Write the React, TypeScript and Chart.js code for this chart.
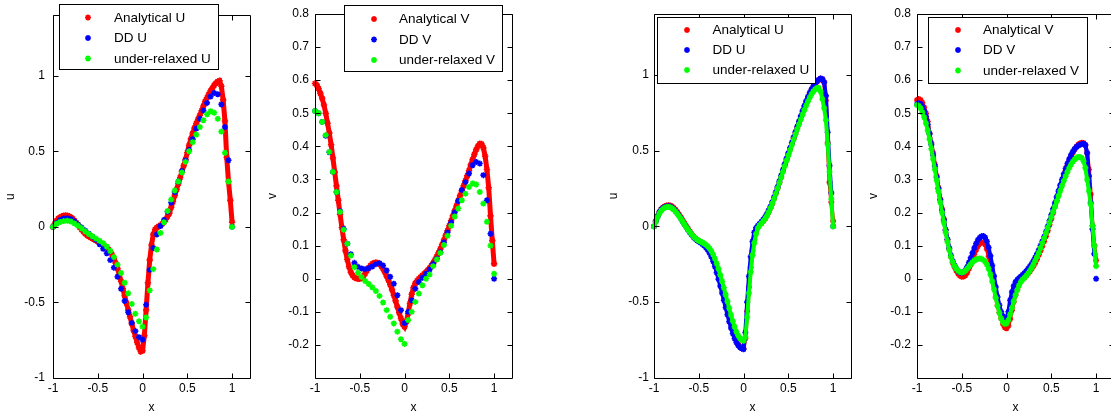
import React, { useEffect, useRef } from "react";
import { Chart, registerables } from "chart.js";

Chart.register(...registerables);

// ---------- data ----------
const X_DENSE = [
  -1, -0.98, -0.96, -0.94, -0.92, -0.9, -0.88, -0.86, -0.84, -0.82,
  -0.8, -0.78, -0.76, -0.74, -0.72, -0.7, -0.68, -0.66, -0.64, -0.62,
  -0.6, -0.58, -0.56, -0.54, -0.52, -0.5, -0.48, -0.46, -0.44, -0.42,
  -0.4, -0.38, -0.36, -0.34, -0.32, -0.3, -0.28, -0.26, -0.24, -0.22,
  -0.2, -0.18, -0.16, -0.14, -0.12, -0.1, -0.08, -0.06, -0.04, -0.02,
  0, 0.02, 0.04, 0.06, 0.08, 0.1, 0.12, 0.14, 0.16, 0.18,
  0.2, 0.22, 0.24, 0.26, 0.28, 0.3, 0.32, 0.34, 0.36, 0.38,
  0.4, 0.42, 0.44, 0.46, 0.48, 0.5, 0.52, 0.54, 0.56, 0.58,
  0.6, 0.62, 0.64, 0.66, 0.68, 0.7, 0.72, 0.74, 0.76, 0.78,
  0.8, 0.82, 0.84, 0.86, 0.88, 0.9, 0.92, 0.94, 0.96, 0.98,
  1,
];

const X_COARSE = [
  -1, -0.96, -0.92, -0.88, -0.84, -0.8, -0.76, -0.72, -0.68, -0.64,
  -0.6, -0.56, -0.52, -0.48, -0.44, -0.4, -0.36, -0.32, -0.28, -0.24,
  -0.2, -0.16, -0.12, -0.08, -0.04, 0, 0.04, 0.08, 0.12, 0.16,
  0.2, 0.24, 0.28, 0.32, 0.36, 0.4, 0.44, 0.48, 0.52, 0.56,
  0.6, 0.64, 0.68, 0.72, 0.76, 0.8, 0.84, 0.88, 0.92, 0.96,
  1,
];

const X_TICKS = [-1, -0.5, 0, 0.5, 1];
const U_TICKS = [-1, -0.5, 0, 0.5, 1];
const V_TICKS = [-0.2, -0.1, 0, 0.1, 0.2, 0.3, 0.4, 0.5, 0.6, 0.7, 0.8];

const U_LABELS = ["Analytical U", "DD U", "under-relaxed U"];
const V_LABELS = ["Analytical V", "DD V", "under-relaxed V"];

// Panel 1 (U)
const P1_ANALYTICAL_U = [
  0, 0.02, 0.04, 0.055, 0.063, 0.07, 0.074, 0.075, 0.074, 0.07,
  0.063, 0.053, 0.04, 0.027, 0.012, -0.004, -0.018, -0.032, -0.045, -0.055,
  -0.063, -0.07, -0.077, -0.084, -0.09, -0.097, -0.105, -0.113, -0.12, -0.128,
  -0.138, -0.15, -0.165, -0.185, -0.21, -0.24, -0.275, -0.315, -0.36, -0.41,
  -0.455, -0.505, -0.55, -0.595, -0.64, -0.685, -0.725, -0.765, -0.8, -0.825,
  -0.82, -0.72, -0.55, -0.37, -0.22, -0.12, -0.05, -0.018, -0.005, 0.003,
  0.01, 0.02, 0.033, 0.05, 0.07, 0.09, 0.13, 0.168, 0.208, 0.247,
  0.287, 0.326, 0.365, 0.405, 0.445, 0.492, 0.54, 0.582, 0.618, 0.654,
  0.684, 0.712, 0.738, 0.768, 0.799, 0.83, 0.854, 0.877, 0.9, 0.918,
  0.937, 0.951, 0.961, 0.966, 0.93, 0.84, 0.7, 0.46, 0.3, 0.175,
  0.03,
];
const P1_DD_U = [
  0, 0.025, 0.045, 0.055, 0.057, 0.05, 0.035, 0.015, -0.005, -0.025,
  -0.045, -0.065, -0.085, -0.115, -0.145, -0.175, -0.22, -0.27, -0.33, -0.41,
  -0.49, -0.565, -0.635, -0.69, -0.73, -0.745, -0.515, -0.285, -0.14, -0.05,
  0.005, 0.045, 0.1, 0.16, 0.23, 0.3, 0.37, 0.44, 0.51, 0.58,
  0.65, 0.715, 0.77, 0.82, 0.862, 0.885, 0.877, 0.81, 0.66, 0.44,
  0,
];
const P1_RELAXED_U = [
  0, 0.02, 0.032, 0.038, 0.04, 0.035, 0.022, 0.008, -0.01, -0.03,
  -0.048, -0.063, -0.078, -0.092, -0.108, -0.13, -0.16, -0.2, -0.25, -0.305,
  -0.37, -0.44, -0.51, -0.575, -0.625, -0.66, -0.6, -0.42, -0.28, -0.15,
  -0.04, 0.03, 0.105, 0.18, 0.24, 0.3, 0.36, 0.43, 0.5, 0.56,
  0.61, 0.66, 0.705, 0.745, 0.765, 0.755, 0.715, 0.63, 0.49, 0.3,
  0,
];

// Panel 2 (V)
const P2_ANALYTICAL_V = [
  0.59, 0.585, 0.575, 0.56, 0.545, 0.525, 0.5, 0.47, 0.44, 0.405,
  0.365, 0.322, 0.28, 0.237, 0.195, 0.155, 0.118, 0.085, 0.058, 0.036,
  0.02, 0.01, 0.004, 0.001, 0, 0, 0.002, 0.008, 0.016, 0.025,
  0.033, 0.04, 0.045, 0.048, 0.049, 0.048, 0.045, 0.038, 0.03, 0.02,
  0.008, -0.004, -0.018, -0.033, -0.05, -0.067, -0.085, -0.103, -0.12, -0.137,
  -0.145, -0.13, -0.105, -0.075, -0.047, -0.027, -0.014, -0.006, 0, 0.005,
  0.01, 0.015, 0.02, 0.026, 0.032, 0.04, 0.048, 0.057, 0.067, 0.078,
  0.09, 0.103, 0.117, 0.131, 0.145, 0.16, 0.175, 0.19, 0.205, 0.22,
  0.236, 0.251, 0.266, 0.281, 0.296, 0.311, 0.327, 0.344, 0.36, 0.376,
  0.39, 0.401, 0.408, 0.407, 0.396, 0.37, 0.33, 0.275, 0.19, 0.115,
  0.045,
];
const P2_DD_V = [
  0.507, 0.5, 0.474, 0.432, 0.382, 0.323, 0.262, 0.204, 0.151, 0.106,
  0.074, 0.048, 0.036, 0.031, 0.029, 0.032, 0.037, 0.044, 0.047, 0.04,
  0.025, 0.006, -0.015, -0.05, -0.095, -0.134, -0.1, -0.065, -0.03, -0.01,
  0.003, 0.015, 0.028, 0.045, 0.06, 0.08, 0.11, 0.14, 0.17, 0.2,
  0.235, 0.268, 0.292, 0.318, 0.343, 0.353, 0.348, 0.313, 0.237, 0.136,
  0,
];
const P2_RELAXED_V = [
  0.507, 0.5, 0.474, 0.434, 0.383, 0.323, 0.262, 0.202, 0.148, 0.106,
  0.07, 0.035, 0.018, 0.005, -0.007, -0.016, -0.026, -0.037, -0.052, -0.072,
  -0.095, -0.115, -0.135, -0.16, -0.183, -0.197, -0.125, -0.1, -0.07, -0.045,
  -0.02, 0, 0.013, 0.038, 0.058, 0.078, 0.102, 0.13, 0.16, 0.188,
  0.212, 0.237, 0.257, 0.277, 0.288, 0.285, 0.262, 0.227, 0.172, 0.1,
  0.015,
];

// Panel 3 (U)
const P3_ANALYTICAL_U = [
  0, 0.035, 0.068, 0.095, 0.113, 0.125, 0.133, 0.137, 0.139, 0.138,
  0.132, 0.122, 0.11, 0.095, 0.078, 0.06, 0.04, 0.02, 0.003, -0.015,
  -0.033, -0.05, -0.065, -0.078, -0.088, -0.096, -0.103, -0.11, -0.118, -0.128,
  -0.14, -0.157, -0.18, -0.207, -0.24, -0.277, -0.317, -0.36, -0.405, -0.45,
  -0.497, -0.545, -0.595, -0.64, -0.683, -0.72, -0.75, -0.775, -0.793, -0.805,
  -0.805, -0.74, -0.56, -0.4, -0.27, -0.16, -0.09, -0.035, -0.005, 0.01,
  0.02, 0.035, 0.05, 0.07, 0.093, 0.12, 0.15, 0.183, 0.215, 0.25,
  0.288, 0.325, 0.365, 0.405, 0.44, 0.475, 0.51, 0.545, 0.58, 0.615,
  0.65, 0.685, 0.72, 0.755, 0.79, 0.822, 0.85, 0.877, 0.9, 0.92,
  0.94, 0.953, 0.965, 0.975, 0.97, 0.95, 0.83, 0.55, 0.29, 0.16,
  0.035,
];
const P3_DD_U = [
  0, 0.033, 0.065, 0.092, 0.11, 0.121, 0.128, 0.131, 0.132, 0.13,
  0.124, 0.115, 0.103, 0.088, 0.071, 0.053, 0.033, 0.013, -0.005, -0.023,
  -0.04, -0.056, -0.07, -0.082, -0.092, -0.1, -0.108, -0.117, -0.127, -0.14,
  -0.155, -0.175, -0.2, -0.23, -0.265, -0.305, -0.348, -0.393, -0.44, -0.487,
  -0.535, -0.582, -0.628, -0.67, -0.707, -0.74, -0.765, -0.785, -0.797, -0.805,
  -0.81, -0.7, -0.5, -0.33, -0.2, -0.1, -0.04, -0.01, 0.005, 0.018,
  0.03, 0.045, 0.062, 0.082, 0.105, 0.13, 0.16, 0.192, 0.225, 0.26,
  0.297, 0.335, 0.373, 0.41, 0.447, 0.483, 0.518, 0.553, 0.588, 0.623,
  0.658, 0.693, 0.728, 0.762, 0.795, 0.826, 0.855, 0.882, 0.905, 0.925,
  0.943, 0.957, 0.967, 0.975, 0.972, 0.95, 0.86, 0.62, 0.4, 0.22,
  0,
];
const P3_RELAXED_U = [
  0, 0.03, 0.06, 0.085, 0.103, 0.115, 0.123, 0.127, 0.128, 0.126,
  0.12, 0.11, 0.098, 0.083, 0.067, 0.05, 0.032, 0.013, -0.005, -0.022,
  -0.038, -0.053, -0.066, -0.077, -0.087, -0.095, -0.101, -0.107, -0.114, -0.122,
  -0.132, -0.145, -0.163, -0.186, -0.213, -0.245, -0.28, -0.32, -0.362, -0.405,
  -0.45, -0.495, -0.54, -0.585, -0.625, -0.662, -0.695, -0.72, -0.738, -0.75,
  -0.755, -0.73, -0.6, -0.44, -0.3, -0.19, -0.11, -0.05, -0.012, 0.008,
  0.02, 0.034, 0.05, 0.07, 0.093, 0.12, 0.15, 0.182, 0.215, 0.25,
  0.287, 0.323, 0.36, 0.397, 0.433, 0.468, 0.503, 0.538, 0.573, 0.607,
  0.64, 0.673, 0.705, 0.737, 0.768, 0.797, 0.825, 0.85, 0.872, 0.89,
  0.903, 0.912, 0.912, 0.89, 0.84, 0.78, 0.7, 0.54, 0.36, 0.18,
  0,
];

// Panel 4 (V)
const P4_ANALYTICAL_V = [
  0.54, 0.543, 0.54, 0.532, 0.518, 0.5, 0.475, 0.44, 0.41, 0.38,
  0.345, 0.31, 0.275, 0.24, 0.21, 0.18, 0.148, 0.118, 0.09, 0.066,
  0.048, 0.035, 0.024, 0.015, 0.009, 0.006, 0.007, 0.01, 0.018, 0.03,
  0.042, 0.057, 0.073, 0.087, 0.098, 0.106, 0.11, 0.109, 0.104, 0.09,
  0.068, 0.042, 0.012, -0.02, -0.055, -0.08, -0.102, -0.12, -0.137, -0.147,
  -0.15, -0.142, -0.122, -0.095, -0.07, -0.048, -0.03, -0.016, -0.006, 0,
  0.004, 0.01, 0.016, 0.022, 0.03, 0.038, 0.047, 0.059, 0.072, 0.085,
  0.099, 0.113, 0.128, 0.145, 0.163, 0.181, 0.199, 0.218, 0.236, 0.255,
  0.273, 0.291, 0.309, 0.326, 0.342, 0.357, 0.37, 0.381, 0.391, 0.399,
  0.405, 0.409, 0.411, 0.41, 0.403, 0.38, 0.33, 0.255, 0.16, 0.1,
  0.055,
];
const P4_DD_V = [
  0.527, 0.53, 0.528, 0.52, 0.507, 0.49, 0.466, 0.437, 0.405, 0.373,
  0.34, 0.306, 0.272, 0.238, 0.207, 0.177, 0.147, 0.119, 0.093, 0.07,
  0.053, 0.04, 0.03, 0.023, 0.019, 0.018, 0.02, 0.026, 0.036, 0.049,
  0.063, 0.078, 0.093, 0.106, 0.117, 0.124, 0.128, 0.129, 0.125, 0.113,
  0.094, 0.069, 0.04, 0.008, -0.025, -0.055, -0.08, -0.1, -0.113, -0.12,
  -0.121, -0.1, -0.065, -0.04, -0.022, -0.01, -0.003, 0.002, 0.007, 0.012,
  0.017, 0.023, 0.03, 0.037, 0.045, 0.054, 0.064, 0.075, 0.087, 0.1,
  0.113, 0.127, 0.142, 0.158, 0.175, 0.193, 0.211, 0.229, 0.247, 0.265,
  0.283, 0.3, 0.317, 0.333, 0.348, 0.362, 0.374, 0.384, 0.392, 0.398,
  0.402, 0.405, 0.407, 0.408, 0.405, 0.38, 0.31, 0.23, 0.15, 0.075,
  0,
];
const P4_RELAXED_V = [
  0.525, 0.522, 0.515, 0.503, 0.488, 0.47, 0.448, 0.422, 0.393, 0.362,
  0.33, 0.297, 0.264, 0.231, 0.2, 0.17, 0.14, 0.112, 0.087, 0.066,
  0.05, 0.038, 0.03, 0.024, 0.02, 0.019, 0.02, 0.024, 0.03, 0.037,
  0.044, 0.05, 0.055, 0.058, 0.06, 0.061, 0.06, 0.057, 0.052, 0.043,
  0.03, 0.013, -0.008, -0.032, -0.058, -0.082, -0.103, -0.12, -0.131, -0.136,
  -0.135, -0.125, -0.108, -0.088, -0.068, -0.05, -0.034, -0.02, -0.009, -0.002,
  0.003, 0.009, 0.016, 0.024, 0.033, 0.043, 0.054, 0.066, 0.079, 0.093,
  0.107, 0.122, 0.138, 0.154, 0.17, 0.186, 0.202, 0.218, 0.234, 0.25,
  0.266, 0.281, 0.296, 0.31, 0.323, 0.335, 0.345, 0.354, 0.36, 0.365,
  0.368, 0.368, 0.365, 0.355, 0.335, 0.3, 0.265, 0.225, 0.16, 0.1,
  0.038,
];

// ---------- styling / layout ----------
const FONT = "'Liberation Sans', Arial, Helvetica, sans-serif";
const RED = "#ff0000";
const BLUE = "#0000ff";
const GREEN = "#00ff00";
const H = 418;

type Series = {
  xs: number[];
  ys: number[];
  color: string;
  dense: boolean;
  lineW: number;
  radius: number;
  order: number;
  breakLast?: boolean;
};

type PanelCfg = {
  left: number;
  width: number;
  yAxisW: number;
  padRight: number;
  tickPad: number;
  yMin: number;
  yMax: number;
  yTicks: number[];
  yTitle: string;
  yTitlePad: number;
  labels: string[];
  legend: { box: number[]; markerX: number; textX: number; rows: number[] };
  series: Series[];
};

const PANELS: PanelCfg[] = [
  {
    left: 0, width: 262, yAxisW: 53, padRight: 12, tickPad: 8,
    yMin: -1, yMax: 1.4, yTicks: U_TICKS, yTitle: "u", yTitlePad: 3,
    labels: U_LABELS,
    legend: { box: [59, 4, 159, 65], markerX: 88, textX: 114, rows: [17.5, 38, 58.5] },
    series: [
      { xs: X_DENSE, ys: P1_ANALYTICAL_U, color: RED, dense: true, lineW: 5, radius: 3.2, order: 3 },
      { xs: X_COARSE, ys: P1_DD_U, color: BLUE, dense: false, lineW: 0, radius: 3, order: 2 },
      { xs: X_COARSE, ys: P1_RELAXED_U, color: GREEN, dense: false, lineW: 0, radius: 3, order: 1 },
    ],
  },
  {
    left: 262, width: 262, yAxisW: 53, padRight: 12, tickPad: 6,
    yMin: -0.3, yMax: 0.8, yTicks: V_TICKS, yTitle: "v", yTitlePad: 3,
    labels: V_LABELS,
    legend: { box: [82, 5, 158, 66], markerX: 112, textX: 137, rows: [19, 39.5, 60] },
    series: [
      { xs: X_DENSE, ys: P2_ANALYTICAL_V, color: RED, dense: true, lineW: 5, radius: 3.2, order: 3 },
      { xs: X_COARSE, ys: P2_DD_V, color: BLUE, dense: false, lineW: 0, radius: 3, order: 2 },
      { xs: X_COARSE, ys: P2_RELAXED_V, color: GREEN, dense: false, lineW: 0, radius: 3, order: 1 },
    ],
  },
  {
    left: 600, width: 262, yAxisW: 54, padRight: 11, tickPad: 5,
    yMin: -1, yMax: 1.4, yTicks: U_TICKS, yTitle: "u", yTitlePad: 6,
    labels: U_LABELS,
    legend: { box: [57, 17, 158, 66], markerX: 87, textX: 112.5, rows: [30, 50, 70] },
    series: [
      { xs: X_DENSE, ys: P3_ANALYTICAL_U, color: RED, dense: true, lineW: 4, radius: 3, order: 3 },
      { xs: X_DENSE, ys: P3_DD_U, color: BLUE, dense: true, lineW: 4, radius: 3, order: 2, breakLast: true },
      { xs: X_DENSE, ys: P3_RELAXED_U, color: GREEN, dense: true, lineW: 4, radius: 3, order: 1 },
    ],
  },
  {
    left: 862, width: 262, yAxisW: 55, padRight: 10, tickPad: 6,
    yMin: -0.3, yMax: 0.8, yTicks: V_TICKS, yTitle: "v", yTitlePad: 4,
    labels: V_LABELS,
    legend: { box: [66, 17, 159, 66], markerX: 96, textX: 121, rows: [30, 50, 70.5] },
    series: [
      { xs: X_DENSE, ys: P4_ANALYTICAL_V, color: RED, dense: true, lineW: 4, radius: 3, order: 3 },
      { xs: X_DENSE, ys: P4_DD_V, color: BLUE, dense: true, lineW: 4, radius: 3, order: 2, breakLast: true },
      { xs: X_DENSE, ys: P4_RELAXED_V, color: GREEN, dense: true, lineW: 4, radius: 3, order: 1 },
    ],
  },
];

const fmt = (v: any) => {
  const n = Number(v);
  return String(Math.round(n * 100) / 100);
};

function drawStar(ctx: CanvasRenderingContext2D, x: number, y: number, r: number) {
  const d = r * Math.SQRT1_2;
  ctx.beginPath();
  ctx.moveTo(x - r, y); ctx.lineTo(x + r, y);
  ctx.moveTo(x, y - r); ctx.lineTo(x, y + r);
  ctx.moveTo(x - d, y - d); ctx.lineTo(x + d, y + d);
  ctx.moveTo(x - d, y + d); ctx.lineTo(x + d, y - d);
  ctx.stroke();
}

const framePlugin = {
  id: "matlabFrame",
  afterDraw(chart: any, _args: any, opts: any) {
    const { ctx, chartArea: a, scales } = chart;
    const xs = scales.x;
    const ys = scales.y;
    ctx.save();
    ctx.strokeStyle = "#000";
    ctx.lineWidth = 1;
    const l = Math.round(a.left) + 0.5;
    const r = Math.round(a.right) + 0.5;
    const t = Math.round(a.top) + 0.5;
    const b = Math.round(a.bottom) + 0.5;
    ctx.beginPath();
    ctx.rect(l, t, r - l, b - t);
    ctx.stroke();
    const L = 5;
    ctx.beginPath();
    xs.ticks.forEach((tk: any) => {
      const px = Math.round(xs.getPixelForValue(tk.value)) + 0.5;
      ctx.moveTo(px, b); ctx.lineTo(px, b - L);
      ctx.moveTo(px, t); ctx.lineTo(px, t + L);
    });
    ys.ticks.forEach((tk: any) => {
      const py = Math.round(ys.getPixelForValue(tk.value)) + 0.5;
      ctx.moveTo(l, py); ctx.lineTo(l + L, py);
      ctx.moveTo(r, py); ctx.lineTo(r - L, py);
    });
    ctx.stroke();

    // legend
    if (opts && opts.box) {
      const [bx, by, bw, bh] = opts.box;
      ctx.fillStyle = "#fff";
      ctx.fillRect(bx, by, bw, bh);
      ctx.strokeStyle = "#000";
      ctx.strokeRect(Math.round(bx) + 0.5, Math.round(by) + 0.5, Math.round(bw), Math.round(bh));
      ctx.font = `13.5px ${FONT}`;
      ctx.textBaseline = "middle";
      ctx.textAlign = "left";
      chart.data.datasets.forEach((ds: any, i: number) => {
        const y = opts.rows[i];
        ctx.strokeStyle = ds.pointBorderColor;
        ctx.lineWidth = 1.6;
        drawStar(ctx, opts.markerX, y, 3);
        ctx.fillStyle = "#000";
        ctx.fillText(ds.label, opts.textX, y + 0.5);
      });
    }
    ctx.restore();
  },
};

function Panel({ cfg }: { cfg: PanelCfg }) {
  const ref = useRef<HTMLCanvasElement>(null);
  useEffect(() => {
    const canvas = ref.current;
    if (!canvas) return;
    const datasets = cfg.series.map((s, i) => {
      const n = s.xs.length;
      const ds: any = {
        label: cfg.labels[i],
        data: s.xs.map((x, k) => ({ x, y: s.ys[k] })),
        showLine: s.dense,
        borderColor: s.color,
        backgroundColor: s.color,
        borderWidth: s.lineW,
        pointStyle: "star",
        pointRadius: s.radius,
        pointBorderWidth: 1.6,
        pointBorderColor: s.color,
        pointBackgroundColor: s.color,
        pointHoverRadius: s.radius,
        order: s.order,
        clip: false,
        tension: 0,
      };
      if (s.breakLast) {
        ds.segment = {
          borderColor: (c: any) => (c.p1DataIndex === n - 1 ? "rgba(0,0,0,0)" : undefined),
        };
      }
      return ds;
    });
    const chart = new Chart(canvas, {
      type: "scatter",
      data: { datasets },
      plugins: [framePlugin as any],
      options: {
        animation: false,
        responsive: false,
        devicePixelRatio: 1,
        events: [],
        layout: { padding: { top: 14, right: cfg.padRight, left: 0, bottom: 0 } },
        plugins: {
          legend: { display: false },
          tooltip: { enabled: false },
          matlabFrame: cfg.legend,
        } as any,
        scales: {
          x: {
            type: "linear",
            position: "bottom",
            min: -1,
            max: 1.2,
            grid: { display: false, drawTicks: false },
            border: { display: false },
            ticks: {
              padding: 3,
              color: "#000",
              font: { family: FONT, size: 12 },
              autoSkip: false,
              maxRotation: 0,
              callback: fmt,
            },
            afterBuildTicks: (s: any) => {
              s.ticks = X_TICKS.map((v) => ({ value: v }));
            },
            afterFit: (s: any) => {
              s.height = 40;
            },
            title: {
              display: true,
              text: "x",
              color: "#000",
              font: { family: FONT, size: 12 },
              padding: { top: 0, bottom: 3 },
            },
          },
          y: {
            type: "linear",
            position: "left",
            min: cfg.yMin,
            max: cfg.yMax,
            grid: { display: false, drawTicks: false },
            border: { display: false },
            ticks: {
              padding: cfg.tickPad,
              color: "#000",
              font: { family: FONT, size: 12 },
              autoSkip: false,
              callback: fmt,
            },
            afterBuildTicks: (s: any) => {
              s.ticks = cfg.yTicks.map((v) => ({ value: v }));
            },
            afterFit: (s: any) => {
              s.width = cfg.yAxisW;
            },
            title: {
              display: true,
              text: cfg.yTitle,
              color: "#000",
              font: { family: FONT, size: 12 },
              padding: { top: cfg.yTitlePad, bottom: 0 },
            },
          },
        },
      } as any,
    });
    return () => chart.destroy();
  }, [cfg]);
  return (
    <canvas
      ref={ref}
      width={cfg.width}
      height={H}
      style={{ position: "absolute", left: cfg.left, top: 0, width: cfg.width, height: H }}
    />
  );
}

export default function App() {
  return (
    <div
      style={{
        position: "fixed",
        left: 0,
        top: 0,
        width: 1111,
        height: H,
        overflow: "hidden",
        background: "#fff",
      }}
    >
      {PANELS.map((p, i) => (
        <Panel key={i} cfg={p} />
      ))}
    </div>
  );
}
